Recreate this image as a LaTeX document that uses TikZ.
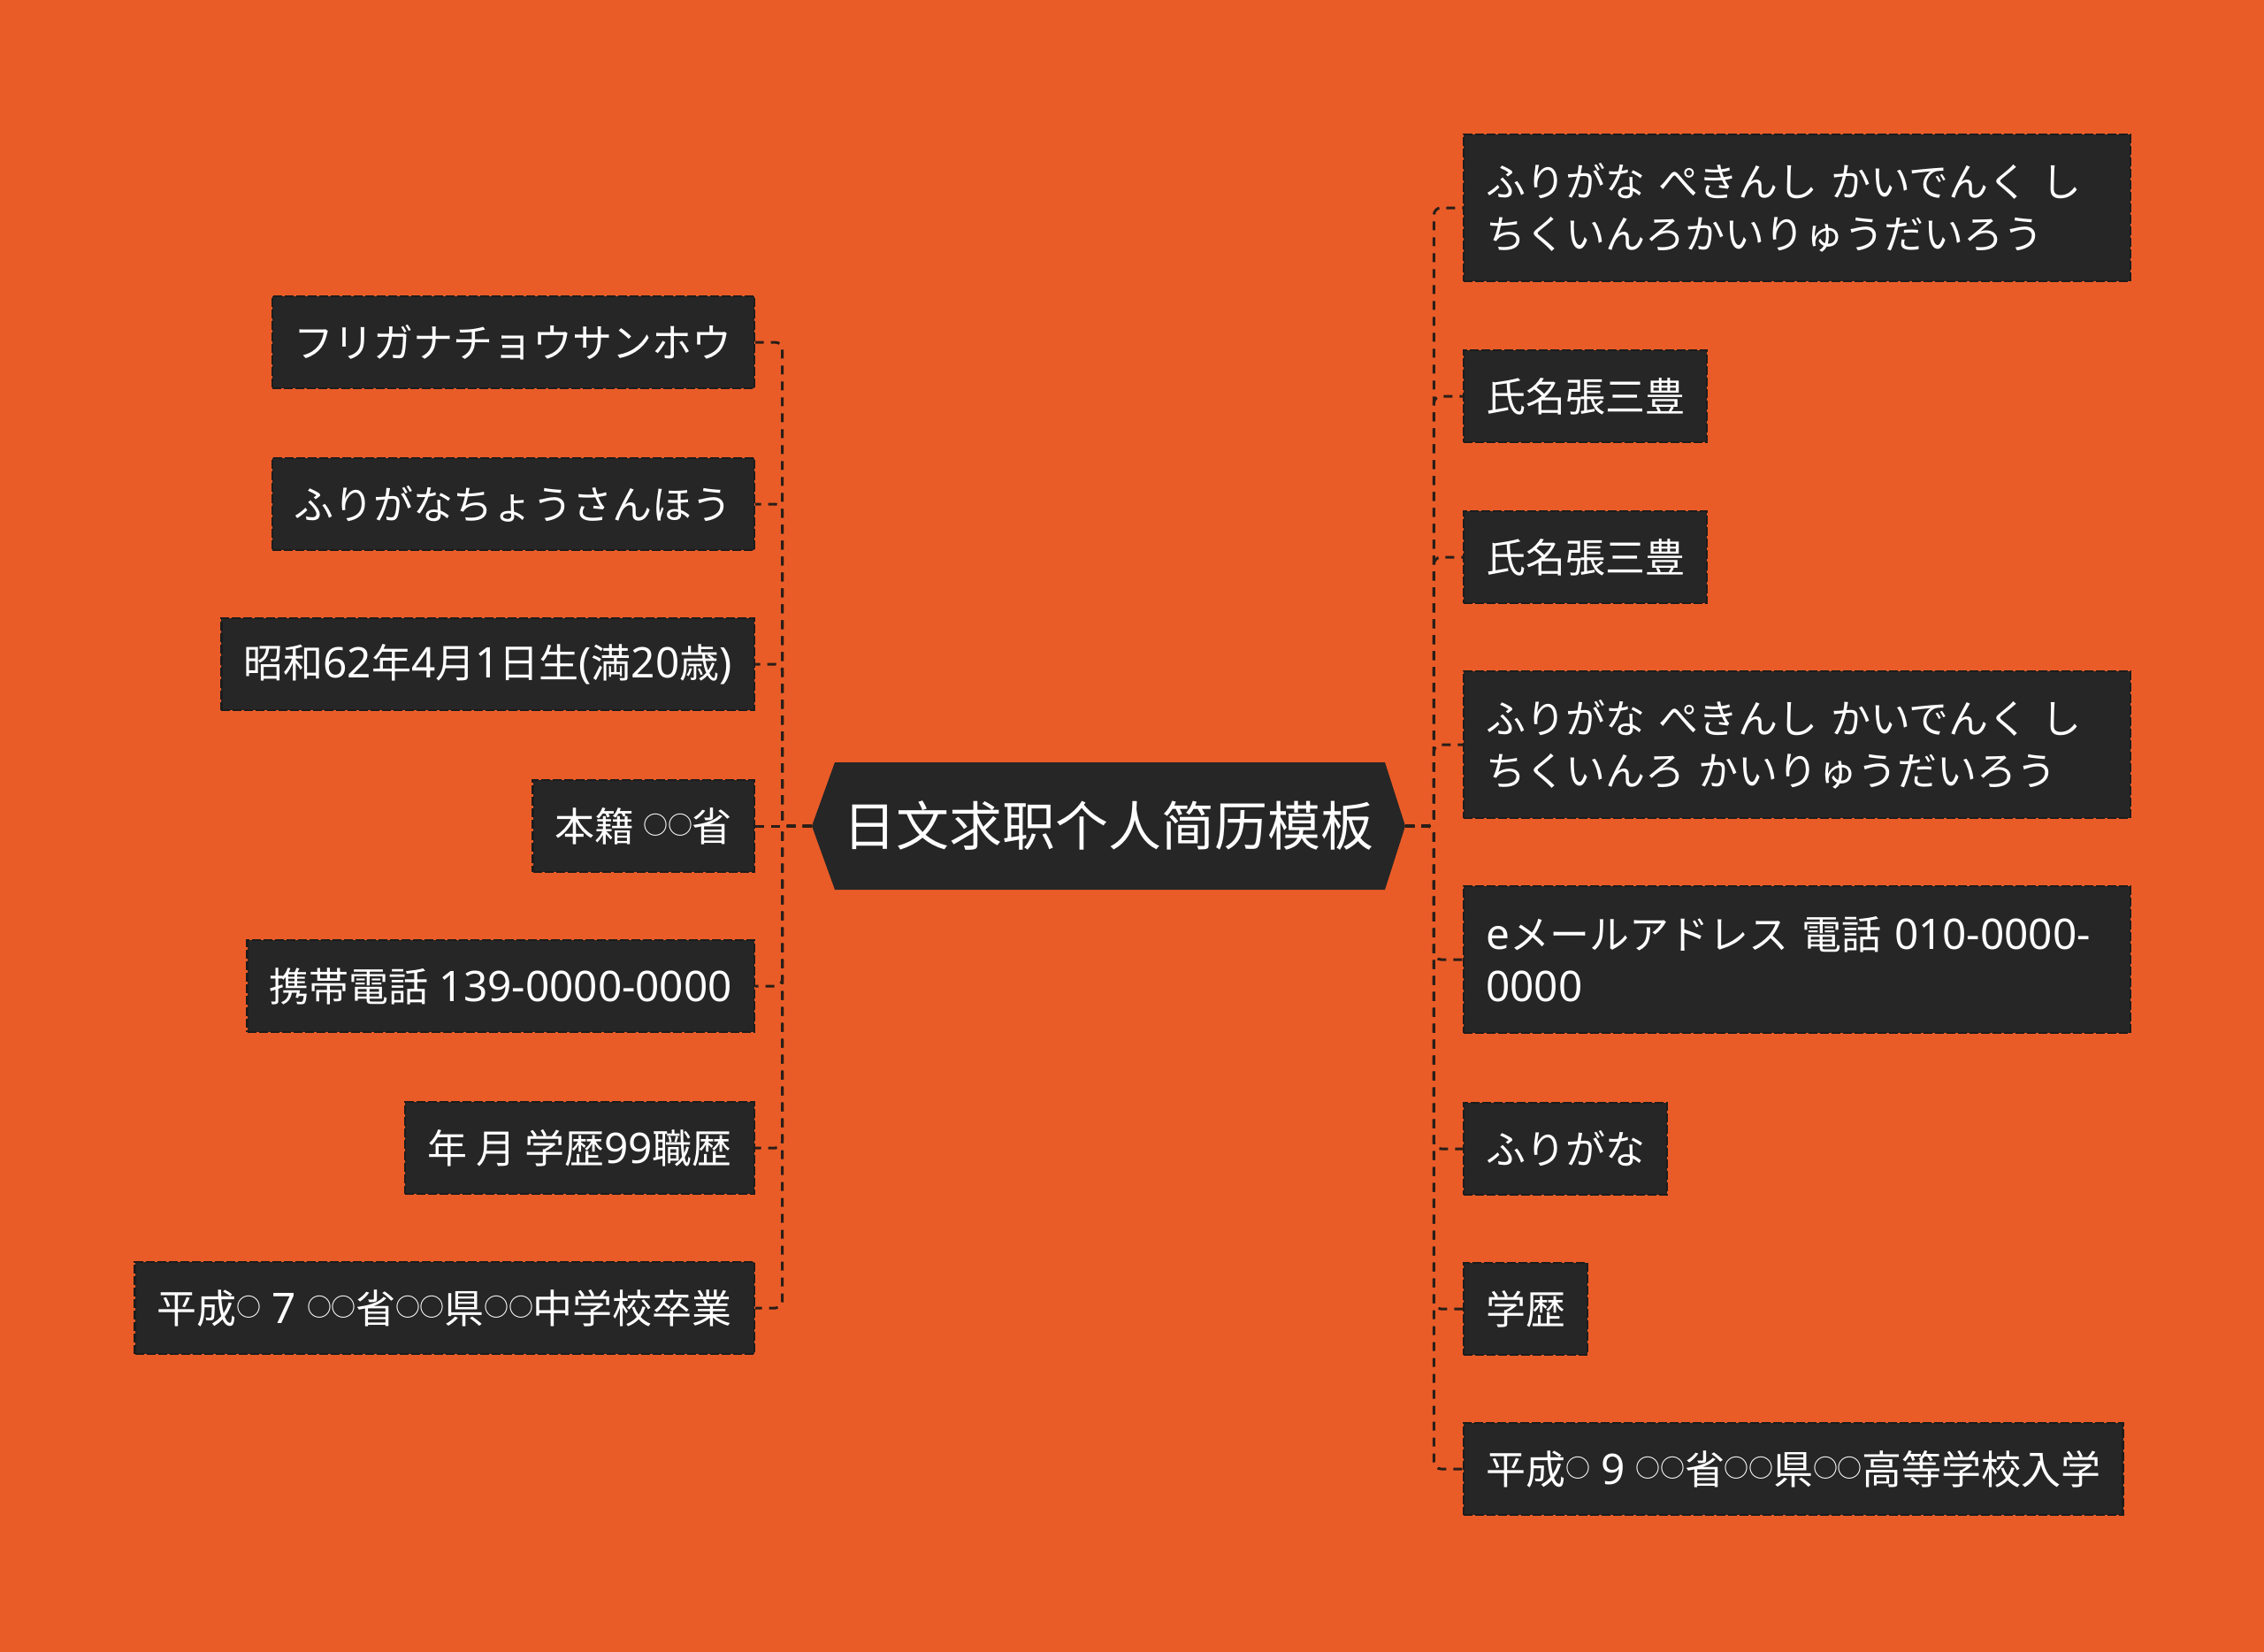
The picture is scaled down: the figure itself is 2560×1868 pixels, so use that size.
\documentclass[tikz,border=0pt]{standalone}
\usepackage{fontspec}
\setmainfont{Noto Sans CJK JP}
\newfontfamily\scfont{Noto Sans CJK SC}
\newfontfamily\latfont[Scale=1.06]{Noto Sans}
\usetikzlibrary{calc}
\definecolor{bg}{HTML}{E95C28}
\definecolor{boxcol}{HTML}{262626}
\definecolor{bordcol}{HTML}{1C1C1C}
\definecolor{linecol}{HTML}{2A1E18}
\newcommand\maru{\makebox[13.8pt][c]{\raisebox{3.8pt}{\fontsize{14pt}{14pt}\selectfont ○}}}
\newcommand\la[1]{{\latfont #1}}
\begin{document}
\begin{tikzpicture}[x=0.5pt,y=-0.5pt,
  leaf/.style={fill=boxcol, draw=bordcol, line width=1.2pt, dash pattern=on 5pt off 1.5pt,
    text=white, font=\fontsize{22.5pt}{29.5pt}\selectfont, inner xsep=12.5pt, inner ysep=0pt,
    minimum height=52pt},
  leaftwo/.style={leaf, minimum height=83pt, text width=352pt, align=left},
  rootnode/.style={minimum width=335.5pt, minimum height=72pt, inner sep=0pt, text=white,
    font=\scfont\fontsize{30pt}{36pt}\selectfont},
  conn/.style={draw=linecol, line width=1.5pt, dash pattern=on 5pt off 4pt, rounded corners=4pt}]
\fill[bg] (0,0) rectangle (2560,1868);
\useasboundingbox (0,0) rectangle (2560,1868);
% central node
\fill[boxcol] (918,934) -- (944,862) -- (1566,862) -- (1589,934) -- (1566,1006) -- (944,1006) -- cycle;
\node[rootnode] (root) at (1253.5,934) {日文求职个人简历模板};
% left nodes
\node[leaf, anchor=east] (L1) at (854,387) {フリガナチョウサンホウ};
\node[leaf, anchor=east] (L2) at (854,570) {ふりがなちょうさんほう};
\node[leaf, anchor=east] (L3) at (854,751) {昭和\la{62}年\la{4}月\la{1}日生\la{(}満\la{20}歳\la{)}};
\node[leaf, anchor=east] (L4) at (854,934) {本籍 \maru\maru 省};
\node[leaf, anchor=east] (L5) at (854,1115) {携帯電話\la{ 139-0000-0000}};
\node[leaf, anchor=east] (L6) at (854,1298) {年 月 学歴\la{99}職歴};
\node[leaf, anchor=east] (L7) at (854,1479) {平成\maru\la{ 7 }\maru\maru 省\maru\maru 県\maru\maru 中学校卒業};
% right nodes
\node[leaftwo, anchor=west] (R1) at (1654,235) {\mbox{ふりがな ぺきんし かいでんく し}\\\mbox{ちくいんろかいりゅうだいろう}};
\node[leaf, anchor=west] (R2) at (1654,448) {氏名張三豊};
\node[leaf, anchor=west] (R3) at (1654,630) {氏名張三豊};
\node[leaftwo, anchor=west] (R4) at (1654,842) {\mbox{ふりがな ぺきんし かいでんく し}\\\mbox{ちくいんろ かいりゅうだいろう}};
\node[leaftwo, anchor=west] (R5) at (1654,1085) {\mbox{\la{e}メールアドレス 電話\la{ 010-0000-}}\\\mbox{\la{0000}}};
\node[leaf, anchor=west] (R6) at (1654,1299) {ふりがな};
\node[leaf, anchor=west] (R7) at (1654,1480) {学歴};
\node[leaf, anchor=west] (R8) at (1654,1661) {平成\maru\la{ 9 }\maru\maru 省\maru\maru 県\maru\maru 高等学校入学};
% left connectors
\foreach \n in {L1,L2,L3,L5,L6,L7}
  \draw[conn] (root.west) -- ++(-33,0) |- (\n.east);
\draw[conn] (root.west) -- (L4.east);
% right connectors
\foreach \n in {R1,R2,R3,R4,R5,R6,R7,R8}
  \draw[conn] (root.east) -- ++(32,0) |- (\n.west);
\end{tikzpicture}
\end{document}
